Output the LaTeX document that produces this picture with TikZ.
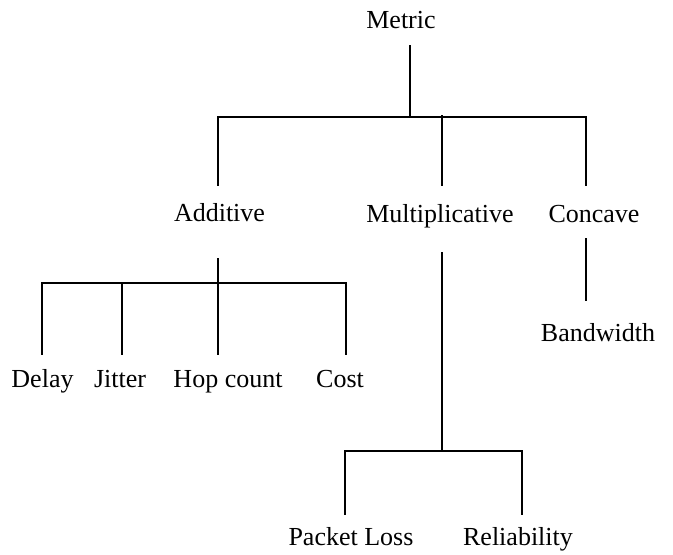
\documentclass[tikz,border=0pt]{standalone}
\usepackage{fontspec}
\setmainfont{Liberation Serif}
\tikzset{
  lbl/.style={anchor=base,inner sep=0pt,text height=18.2pt,text depth=5.7pt,font=\fontsize{26}{30}\selectfont},
  branch/.style={line width=1.6pt}
}
\begin{document}
\begin{tikzpicture}[x=1pt,y=-1pt]
\useasboundingbox (0,0) rectangle (673,555);
% labels
\node[lbl] (metric) at (401,28.5) {Metric};
\node[lbl] (additive) at (219.5,221) {Additive};
\node[lbl] (multi) at (440,222) {Multiplicative};
\node[lbl] (concave) at (594,222) {Concave};
\node[lbl] (bandwidth) at (598,341) {Bandwidth};
\node[lbl] (delay) at (42.5,387) {Delay};
\node[lbl] (jitter) at (120,387) {Jitter};
\node[lbl] (hop) at (228,387) {Hop count};
\node[lbl] (cost) at (340,387) {Cost};
\node[lbl] (loss) at (351,545) {Packet Loss};
\node[lbl] (reliab) at (518,545) {Reliability};
% bars
\coordinate (top bar) at (410,117);
\coordinate (add bar) at (218,283);
\coordinate (mul bar) at (442,451);
% Metric
\draw[branch] ([xshift=9pt,yshift=-10.8pt]metric.south) -- (top bar);
\draw[branch] ([xshift=-1.5pt,yshift=16.8pt]additive.north) |- (top bar) -| ([xshift=-8pt,yshift=17.8pt]concave.north);
\draw[branch] ([xshift=2pt,yshift=17.8pt]multi.north) -- ++(0,-71);
% Additive
\draw[branch] ([xshift=-1.5pt,yshift=-31.3pt]additive.south) -- (add bar);
\draw[branch] ([xshift=-0.5pt,yshift=13.8pt]delay.north) |- (add bar) -| ([xshift=6pt,yshift=13.8pt]cost.north);
\draw[branch] ([xshift=2pt,yshift=13.8pt]jitter.north) -- ++(0,-72);
\draw[branch] ([xshift=-10pt,yshift=13.8pt]hop.north) -- (add bar);
% Multiplicative
\draw[branch] ([xshift=2pt,yshift=-24.3pt]multi.south) -- (mul bar);
\draw[branch] ([xshift=-6pt,yshift=11.8pt]loss.north) |- (mul bar) -| ([xshift=4pt,yshift=11.8pt]reliab.north);
% Concave
\draw[branch] ([xshift=-8pt,yshift=-10.3pt]concave.south) -- ([xshift=-12pt,yshift=21.8pt]bandwidth.north);
\end{tikzpicture}
\end{document}
